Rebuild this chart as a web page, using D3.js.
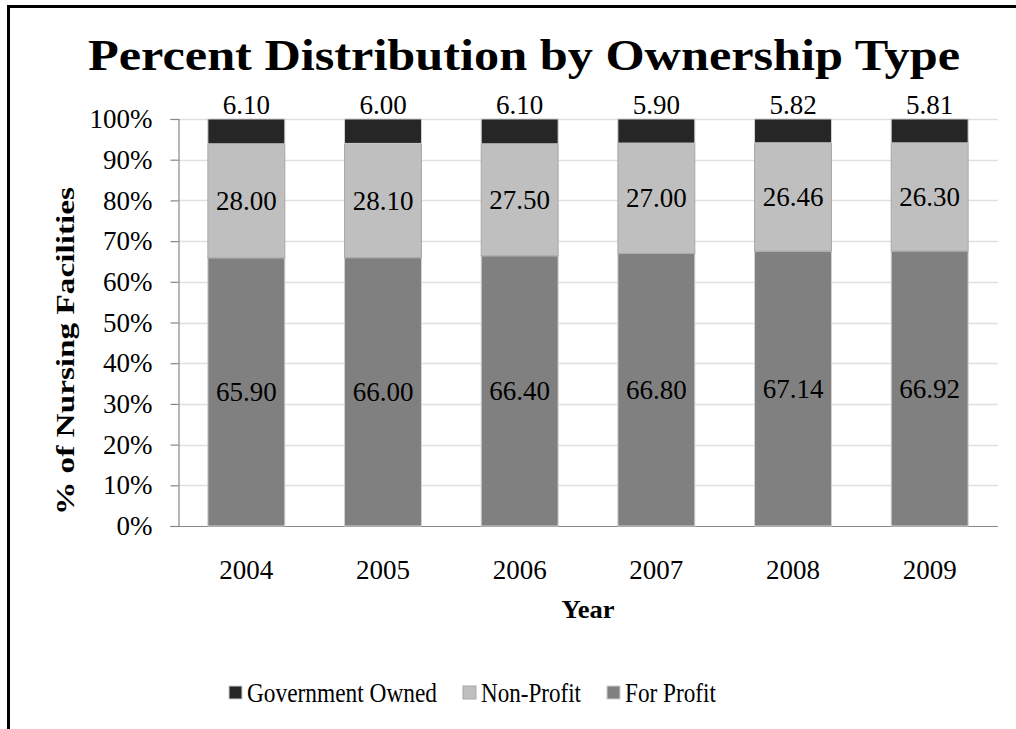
<!DOCTYPE html>
<html>
<head>
<meta charset="utf-8">
<script src="https://cdn.jsdelivr.net/npm/d3@7"></script>
<style>
  body { margin: 0; background: #fff; }
  svg text { font-family: "Liberation Serif", serif; }
</style>
</head>
<body>
<div id="chart"></div>
<script>
// Percent distribution of nursing facilities by ownership type

const years = ['2004', '2005', '2006', '2007', '2008', '2009'];
const forProfit = [65.90, 66.00, 66.40, 66.80, 67.14, 66.92];
const nonProfit = [28.00, 28.10, 27.50, 27.00, 26.46, 26.30];
const government = [6.10, 6.00, 6.10, 5.90, 5.82, 5.81];
const yTicks = [0, 0.1, 0.2, 0.3, 0.4, 0.5, 0.6, 0.7, 0.8, 0.9, 1];

const seriesNames = ['For Profit', 'Non-Profit', 'Government Owned'];
const legendOrder = ['Government Owned', 'Non-Profit', 'For Profit'];
const colors = { 'For Profit': '#808080', 'Non-Profit': '#bfbfbf', 'Government Owned': '#262626' };
const strokes = { 'For Profit': '#d0d0d0', 'Non-Profit': '#a8a8a8', 'Government Owned': '#d0d0d0' };

const width = 1016, height = 729;
const margin = { left: 178, right: 18, top: 119, bottom: 203 };
const fs = 27;

const svg = d3.select('#chart')
  .append('svg')
  .attr('width', width)
  .attr('height', height);

// outer frame (only left and top edges visible)
svg.append('path')
  .attr('d', 'M8.5,729 V6.5 H1016')
  .attr('fill', 'none')
  .attr('stroke', '#000')
  .attr('stroke-width', 3);

// rows for the stack (100% stacked, so normalise each year)
const rows = years.map((y, i) => {
  const total = forProfit[i] + nonProfit[i] + government[i];
  return {
    year: y,
    'For Profit': forProfit[i] / total,
    'Non-Profit': nonProfit[i] / total,
    'Government Owned': government[i] / total,
    raw: { 'For Profit': forProfit[i], 'Non-Profit': nonProfit[i], 'Government Owned': government[i] }
  };
});

const stack = d3.stack().keys(seriesNames)(rows);

const x = d3.scaleBand()
  .domain(years)
  .range([margin.left, width - margin.right])
  .paddingInner(0.437)
  .paddingOuter(0.2185);

const y = d3.scaleLinear()
  .domain([0, 1])
  .range([height - margin.bottom, margin.top]);

// gridlines
svg.append('g')
  .selectAll('line')
  .data(yTicks.slice(1))
  .join('line')
  .attr('x1', margin.left)
  .attr('x2', width - margin.right)
  .attr('y1', d => Math.round(y(d)) + 0.5)
  .attr('y2', d => Math.round(y(d)) + 0.5)
  .attr('stroke', '#e0e0e0')
  .attr('stroke-width', 1.5);

// y axis
const yAxis = svg.append('g')
  .attr('transform', `translate(${margin.left + 0.5},0)`)
  .call(d3.axisLeft(y).tickValues(yTicks).tickFormat(d3.format('.0%')).tickSize(8).tickPadding(18));
yAxis.select('.domain').attr('stroke', '#888').attr('stroke-width', 1.2);
yAxis.selectAll('.tick line').attr('stroke', '#888').attr('stroke-width', 1.2);
yAxis.selectAll('.tick text')
  .attr('font-size', fs)
  .attr('fill', '#000')
  .style('font-family', '"Liberation Serif", serif');

// x axis
const xAxis = svg.append('g')
  .attr('transform', `translate(0,${Math.round(y(0)) + 0.5})`)
  .call(d3.axisBottom(x).tickSize(0).tickPadding(33));
xAxis.select('.domain').attr('d', `M${margin.left - 8},0H${width - margin.right}`)
  .attr('stroke', '#888').attr('stroke-width', 1.2);
xAxis.selectAll('.tick text')
  .attr('font-size', fs)
  .attr('fill', '#000')
  .style('font-family', '"Liberation Serif", serif');

// government labels above bars (drawn first, bars sit over them)
svg.append('g')
  .selectAll('text')
  .data(rows)
  .join('text')
  .attr('x', d => x(d.year) + x.bandwidth() / 2)
  .attr('y', y(1) - 5)
  .attr('text-anchor', 'middle')
  .attr('font-size', fs)
  .attr('fill', '#000')
  .text(d => d.raw['Government Owned'].toFixed(2));

// bars
const layers = svg.append('g')
  .selectAll('g')
  .data(stack)
  .join('g')
  .attr('fill', d => colors[d.key])
  .attr('stroke', d => strokes[d.key]);

layers.selectAll('rect')
  .data(d => d)
  .join('rect')
  .attr('x', d => x(d.data.year))
  .attr('width', x.bandwidth())
  .attr('y', d => y(d[1]))
  .attr('height', d => y(d[0]) - y(d[1]))
  .attr('stroke-width', 1);

// labels inside the two lower segments
stack.filter(s => s.key !== 'Government Owned').forEach(s => {
  svg.append('g')
    .selectAll('text')
    .data(s)
    .join('text')
    .attr('x', d => x(d.data.year) + x.bandwidth() / 2)
    .attr('y', d => (y(d[0]) + y(d[1])) / 2)
    .attr('dy', '0.34em')
    .attr('text-anchor', 'middle')
    .attr('font-size', fs)
    .attr('fill', '#000')
    .text(d => d.data.raw[s.key].toFixed(2));
});

// title
svg.append('text')
  .attr('x', 524)
  .attr('y', 70)
  .attr('text-anchor', 'middle')
  .attr('font-size', 45)
  .attr('font-weight', 'bold')
  .attr('textLength', 872)
  .attr('lengthAdjust', 'spacingAndGlyphs')
  .text('Percent Distribution by Ownership Type');

// axis titles
svg.append('text')
  .attr('transform', `translate(74,351) rotate(-90)`)
  .attr('text-anchor', 'middle')
  .attr('font-size', 26)
  .attr('font-weight', 'bold')
  .attr('textLength', 328)
  .attr('lengthAdjust', 'spacingAndGlyphs')
  .text('% of Nursing Facilities');

svg.append('text')
  .attr('x', (margin.left + width - margin.right) / 2)
  .attr('y', 618)
  .attr('text-anchor', 'middle')
  .attr('font-size', 26)
  .attr('font-weight', 'bold')
  .attr('textLength', 53)
  .attr('lengthAdjust', 'spacingAndGlyphs')
  .text('Year');

// legend
const legendX = [229, 463, 607];
const legendW = [190, 100, 91];
const legend = svg.append('g')
  .selectAll('g')
  .data(legendOrder)
  .join('g')
  .attr('transform', (d, i) => `translate(${legendX[i]},686)`);

legend.append('rect')
  .attr('width', 13)
  .attr('height', 13)
  .attr('fill', d => colors[d])
  .attr('stroke', d => strokes[d]);

legend.append('text')
  .attr('x', 18)
  .attr('y', 16)
  .attr('font-size', fs)
  .attr('textLength', (d, i) => legendW[i])
  .attr('lengthAdjust', 'spacingAndGlyphs')
  .text(d => d);
</script>
</body>
</html>
